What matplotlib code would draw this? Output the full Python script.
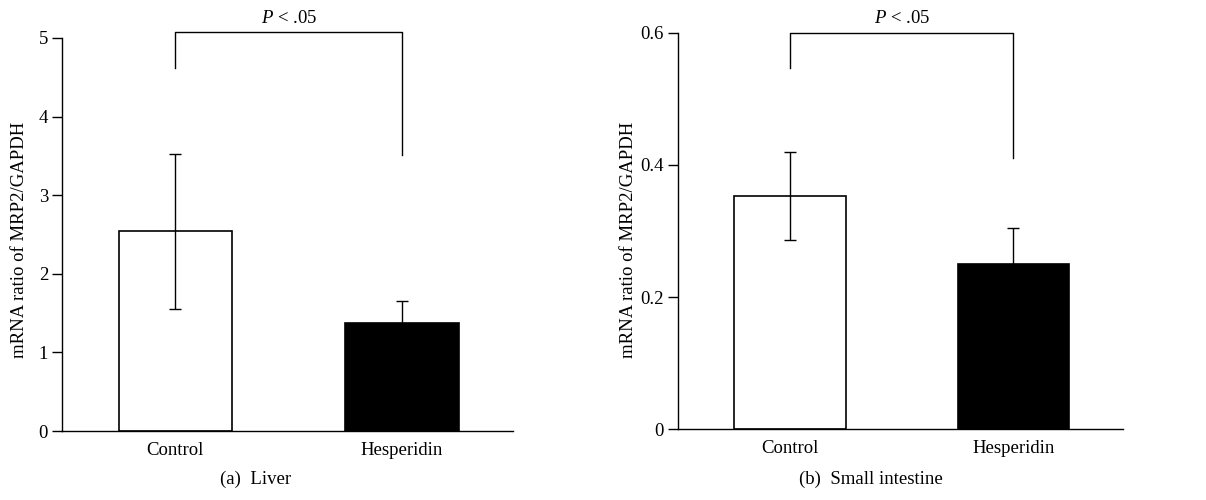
import matplotlib as mpl
mpl.use('Agg')
from matplotlib import pyplot as plt

groups = ['Control', 'Hesperidin']

liver_mean = [2.54, 1.37]
liver_err = [0.99, 0.28]
liver_ticks = [0, 1, 2, 3, 4, 5]
liver_bracket = [5.07, 4.62, 3.51]   # top, left end, right end

intestine_mean = [0.353, 0.250]
intestine_err = [0.066, 0.055]
intestine_ticks = [0, 0.2, 0.4, 0.6]
intestine_bracket = [0.6, 0.547, 0.411]

panels = ['(a)  Liver', '(b)  Small intestine']
y_label = 'mRNA ratio of MRP2/GAPDH'
p_label = r'$P$ < .05'

plt.rcParams['font.family'] = ['Liberation Serif', 'DejaVu Serif']
plt.rcParams['mathtext.fontset'] = 'custom'
plt.rcParams['mathtext.it'] = 'Liberation Serif:italic'
plt.rcParams['mathtext.rm'] = 'Liberation Serif'

fig = plt.figure(figsize=(12.06, 5), dpi=100)

specs = [
    (
        [0.0514, 0.138, 0.374, 0.786], liver_mean, liver_err, liver_ticks,
        (0, 5), liver_bracket, 0.0165, 0.212,
    ),
    (
        [0.5622, 0.1414, 0.369, 0.7932], intestine_mean, intestine_err,
        intestine_ticks, (0, 0.6), intestine_bracket, 0.5215, 0.722,
    ),
]

for (rect, means, errs, ticks, ylim, bracket, ylab_x, panel_x), panel in zip(specs, panels):
    ax = fig.add_axes(rect)
    x = [0, 1]
    ax.bar(x, means, width=0.5, color=['white', 'black'], edgecolor='black',
           linewidth=1.2, zorder=2)
    ax.errorbar(x, means, yerr=errs, fmt='none', ecolor='black',
                elinewidth=1.0, capsize=4.5, capthick=1.0, zorder=3)

    # significance bracket
    top, left_end, right_end = bracket
    ax.plot([0, 0, 1, 1], [left_end, top, top, right_end], color='black',
            lw=1.0, clip_on=False, zorder=3)
    ax.annotate(p_label, xy=(0.5, top), xytext=(0, 4),
                textcoords='offset points', ha='center', va='bottom',
                fontsize=13.5, annotation_clip=False)

    ax.set_xlim(-0.5, 1.49)
    ax.set_ylim(*ylim)
    ax.set_yticks(ticks)
    ax.set_yticklabels(['{:g}'.format(t) for t in ticks])
    ax.set_xticks(x)
    ax.set_xticklabels(groups)
    ax.tick_params(axis='y', direction='out', length=7, width=1.0,
                   labelsize=13.5, pad=3)
    ax.tick_params(axis='x', length=0, labelsize=13.5, pad=8)
    for side in ['top', 'right']:
        ax.spines[side].set_visible(False)
    for side in ['left', 'bottom']:
        ax.spines[side].set_linewidth(1.0)

    fig.text(ylab_x, 0.52, y_label, rotation=90, ha='center', va='center',
             fontsize=13.5)
    fig.text(panel_x, 0.024, panel, ha='center', va='bottom', fontsize=13.5)

fig.savefig('out.png', dpi=100)
